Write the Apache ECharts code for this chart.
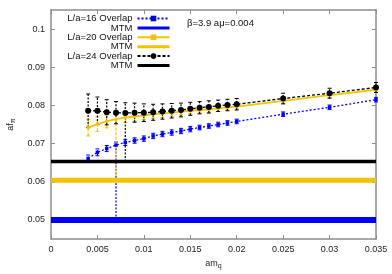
<!DOCTYPE html>
<html><head><meta charset="utf-8">
<script src="https://cdn.jsdelivr.net/npm/echarts@6/dist/echarts.min.js"></script>
<style>html,body{margin:0;padding:0;background:#fff}#c{width:392px;height:274px}</style>
</head><body><div id="c"></div>
<script>
// quark masses am_q
const amq = [0.004,0.005,0.006,0.007,0.008,0.009,0.010,0.011,0.012,0.013,0.014,0.015,0.016,0.017,0.018,0.019,0.020,0.025,0.030,0.035];
// L/a=16 overlap
const l16 = [0.0661,0.0677,0.0687,0.0696,0.0703,0.0708,0.0713,0.0720,0.0725,0.0729,0.0733,0.0738,0.0742,0.0746,0.0750,0.0754,0.0758,0.0777,0.0795,0.0815];
const l16Err = [0.0009,0.0009,0.0008,0.0008,0.0008,0.0007,0.0007,0.0007,0.0007,0.0007,0.0007,0.0007,0.0006,0.0006,0.0006,0.0006,0.0006,0.0006,0.0006,0.0006];
// L/a=20 overlap
const l20 = [0.0742,0.0751,0.0758,0.0764,0.0768,0.0771,0.0774,0.0777,0.0779,0.0781,0.0784,0.0786,0.0788,0.0790,0.0792,0.0795,0.0797,0.0812,0.0827,0.0841];
const l20Err = [0.0022,0.0019,0.0017,0.0015,0.0013,0.0012,0.0011,0.0010,0.0010,0.0009,0.0009,0.0008,0.0008,0.0008,0.0008,0.0007,0.0007,0.0007,0.0007,0.0007];
// L/a=24 overlap
const l24 = [0.0786,0.0786,0.0782,0.0781,0.0780,0.0781,0.0781,0.0782,0.0784,0.0786,0.0788,0.0791,0.0794,0.0796,0.0799,0.0801,0.0803,0.0818,0.0832,0.0847];
const l24Err = [0.0044,0.0036,0.0033,0.0029,0.0027,0.0025,0.0023,0.0021,0.0020,0.0019,0.0018,0.0017,0.0016,0.0016,0.0015,0.0015,0.0015,0.0014,0.0013,0.0013];
// long lower error bars (index into amq, lower end)
const l16Drop = [3, 0.0500];
const l20Drop = [3, 0.0604];
const l24Drop = [4, 0.0653];
// MTM values for L/a = 16, 20, 24
const mtm = [0.0500, 0.0604, 0.0653];
const xRange = [0, 0.035];
const yRange = [0.045, 0.105];
const yTicks = [0.05, 0.06, 0.07, 0.08, 0.09, 0.1];

const BLUE = '#0000ff', YEL = '#f2c300', BLK = '#000000', GRAY = '#8c8c8c';
const FONT = '"Liberation Sans", Arial, sans-serif';

function errData(vals, errs, drop) {
  return amq.map((x, i) => [x, i === drop[0] ? drop[1] : vals[i] - errs[i], vals[i] + errs[i]]);
}
function errRender(color, dash) {
  return function (params, api) {
    const x = api.value(0), lo = api.value(1), hi = api.value(2);
    const p1 = api.coord([x, lo]), p2 = api.coord([x, hi]);
    const w = 2;
    return {
      type: 'group', children: [
        { type: 'line', shape: { x1: p1[0], y1: p1[1], x2: p2[0], y2: p2[1] }, style: { stroke: color, lineWidth: 1.2, lineDash: dash } },
        { type: 'line', shape: { x1: p1[0] - w, y1: p1[1], x2: p1[0] + w, y2: p1[1] }, style: { stroke: color, lineWidth: 1 } },
        { type: 'line', shape: { x1: p2[0] - w, y1: p2[1], x2: p2[0] + w, y2: p2[1] }, style: { stroke: color, lineWidth: 1 } }
      ]
    };
  };
}
function pts(vals) { return amq.map((x, i) => [x, vals[i]]); }
function hline(v) { return [[xRange[0], v], [xRange[1], v]]; }

const fmt = v => String(+(+v).toFixed(3));
const axisCommon = {
  type: 'value', splitLine: { show: false },
  axisLine: { show: true, onZero: false, lineStyle: { color: GRAY, width: 1.5 } },
  axisTick: { show: true, inside: true, length: 4, lineStyle: { color: GRAY, width: 1 } }
};

const chart = echarts.init(document.getElementById('c'), null, { renderer: 'canvas' });
chart.setOption({
  animation: false,
  textStyle: { fontFamily: FONT },
  grid: { left: 51, right: 16, top: 10, bottom: 35, outerBoundsMode: 'none', containLabel: false },
  xAxis: [
    Object.assign({}, axisCommon, {
      position: 'bottom', min: xRange[0], max: xRange[1], interval: 0.005,
      axisLabel: { formatter: fmt, fontSize: 9, color: '#222', margin: 6, fontFamily: FONT },
      name: '{a|am}{s|q}', nameLocation: 'middle', nameGap: 12,
      nameTextStyle: { rich: { a: { fontSize: 9, color: '#222', fontFamily: FONT }, s: { fontSize: 7, color: '#222', padding: [6, 0, 0, 0], fontFamily: FONT } } }
    }),
    Object.assign({}, axisCommon, {
      position: 'top', min: xRange[0], max: xRange[1], interval: 0.005,
      axisLabel: { show: false }
    })
  ],
  yAxis: [
    Object.assign({}, axisCommon, {
      position: 'left', min: yRange[0], max: yRange[1],
      axisLabel: { customValues: yTicks, formatter: fmt, fontSize: 9, color: '#222', margin: 6, fontFamily: FONT },
      axisTick: Object.assign({}, axisCommon.axisTick, { customValues: yTicks }),
      name: '{a|af}{s|π}', nameLocation: 'middle', nameGap: 34, nameRotate: 90,
      nameTextStyle: { rich: { a: { fontSize: 9, color: '#222', fontFamily: FONT }, s: { fontSize: 7, color: '#222', padding: [6, 0, 0, 0], fontFamily: FONT } } }
    }),
    Object.assign({}, axisCommon, {
      position: 'right', min: yRange[0], max: yRange[1],
      axisLabel: { show: false, customValues: yTicks },
      axisTick: Object.assign({}, axisCommon.axisTick, { customValues: yTicks })
    })
  ],
  legend: {
    orient: 'vertical', align: 'right', right: 221, top: 13.5, padding: 0,
    itemWidth: 32, itemHeight: 7, itemGap: -0.6,
    textStyle: { fontSize: 9.5, color: '#111', lineHeight: 8, fontFamily: FONT },
    formatter: n => n.indexOf('MTM') === 0 ? 'MTM' : n,
    data: [
      { name: 'L/a=16 Overlap' },
      { name: 'MTM16', lineStyle: { width: 3 }, itemStyle: { opacity: 0 } },
      { name: 'L/a=20 Overlap' },
      { name: 'MTM20', lineStyle: { width: 3 }, itemStyle: { opacity: 0 } },
      { name: 'L/a=24 Overlap' },
      { name: 'MTM24', lineStyle: { width: 3 }, itemStyle: { opacity: 0 } }
    ]
  },
  graphic: [{ type: 'text', left: 187, top: 18, style: { text: 'β=3.9 aμ=0.004', fontSize: 9.5, fill: '#111', fontFamily: FONT } }],
  series: [
    { type: 'custom', name: 'e16', renderItem: errRender(BLUE, [2, 1.5]), data: errData(l16, l16Err, l16Drop), encode: { x: 0, y: [1, 2] }, silent: true },
    { type: 'line', name: 'L/a=16 Overlap', data: pts(l16), symbol: 'rect', symbolSize: 3.5, showSymbol: true,
      itemStyle: { color: BLUE }, lineStyle: { color: BLUE, width: 1.3, type: [2, 2] }, silent: true },
    { type: 'line', name: 'MTM16', data: hline(mtm[0]), showSymbol: false, symbol: 'none',
      itemStyle: { color: BLUE }, lineStyle: { color: BLUE, width: 6 }, silent: true },
    { type: 'custom', name: 'e20', renderItem: errRender(YEL, [3, 1.5]), data: errData(l20, l20Err, l20Drop), encode: { x: 0, y: [1, 2] }, silent: true },
    { type: 'line', name: 'L/a=20 Overlap', data: pts(l20), symbol: 'rect', symbolSize: 3, showSymbol: true,
      itemStyle: { color: YEL }, lineStyle: { color: YEL, width: 1.8 }, silent: true },
    { type: 'line', name: 'MTM20', data: hline(mtm[1]), showSymbol: false, symbol: 'none',
      itemStyle: { color: YEL }, lineStyle: { color: YEL, width: 5 }, silent: true },
    { type: 'custom', name: 'e24', renderItem: errRender(BLK, [2, 1.5]), data: errData(l24, l24Err, l24Drop), encode: { x: 0, y: [1, 2] }, silent: true },
    { type: 'line', name: 'L/a=24 Overlap', data: pts(l24), symbol: 'circle', symbolSize: 6, showSymbol: true,
      itemStyle: { color: BLK }, lineStyle: { color: BLK, width: 1.3, type: [3, 2] }, silent: true },
    { type: 'line', name: 'MTM24', data: hline(mtm[2]), showSymbol: false, symbol: 'none',
      itemStyle: { color: BLK }, lineStyle: { color: BLK, width: 3.5 }, silent: true }
  ]
});
</script></body></html>
